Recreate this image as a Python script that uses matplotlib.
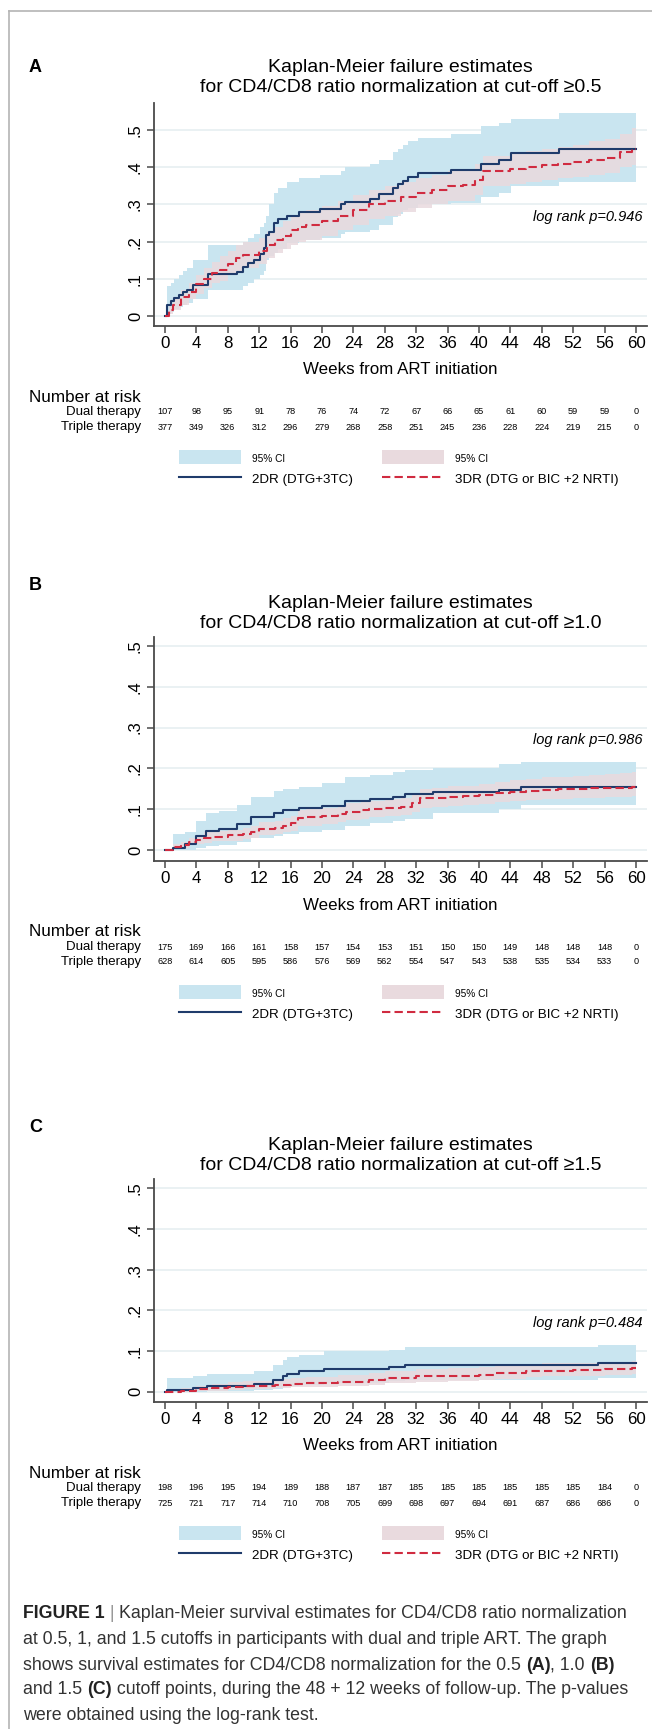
import matplotlib
matplotlib.use("Agg")
import matplotlib.pyplot as plt
from matplotlib.lines import Line2D
from matplotlib.patches import Patch
from matplotlib.transforms import blended_transform_factory

W, H = 652, 1729

plt.rcParams["font.family"] = ["Liberation Sans", "DejaVu Sans"]

# ---- data ----
risk_weeks = [0, 4, 8, 12, 16, 20, 24, 28, 32, 36, 40, 44, 48, 52, 56, 60]
risk_A_dual = [107, 98, 95, 91, 78, 76, 74, 72, 67, 66, 65, 61, 60, 59, 59, 0]
risk_A_triple = [377, 349, 326, 312, 296, 279, 268, 258, 251, 245, 236, 228, 224, 219, 215, 0]
risk_B_dual = [175, 169, 166, 161, 158, 157, 154, 153, 151, 150, 150, 149, 148, 148, 148, 0]
risk_B_triple = [628, 614, 605, 595, 586, 576, 569, 562, 554, 547, 543, 538, 535, 534, 533, 0]
risk_C_dual = [198, 196, 195, 194, 189, 188, 187, 187, 185, 185, 185, 185, 185, 185, 184, 0]
risk_C_triple = [725, 721, 717, 714, 710, 708, 705, 699, 698, 697, 694, 691, 687, 686, 686, 0]

# panel A, 2DR
A2_t = [0, 0.3, 0.8, 1.2, 1.8, 2.3, 2.8, 3.6, 5.5, 9.2, 10.0, 10.6, 11.3, 12.1, 12.6, 12.9, 13.3, 13.9,
        14.4, 15.5, 17.1, 19.8, 22.4, 22.9, 26.1, 27.2, 29.0, 29.7, 30.3, 30.9, 32.2, 36.4, 40.3, 42.5, 44.1, 50.2]
A2_s = [0, .030, .039, .049, .056, .064, .070, .083, .113, .119, .133, .142, .151, .168, .182, .218, .227, .249,
        .260, .269, .280, .289, .301, .307, .316, .327, .343, .354, .363, .375, .384, .392, .410, .419, .439, .448]
A2_hi = [0, .08, .09, .10, .11, .12, .13, .15, .19, .19, .20, .21, .22, .24, .25, .27, .30, .33,
         .345, .36, .37, .38, .39, .40, .41, .42, .44, .45, .46, .47, .48, .49, .51, .52, .53, .545]
A2_lo = [0, .005, .01, .02, .025, .03, .035, .045, .07, .07, .08, .09, .10, .11, .12, .15, .16, .17,
         .18, .195, .205, .21, .22, .225, .23, .245, .265, .275, .285, .29, .30, .305, .32, .33, .35, .36]
# panel A, 3DR
A3_t = [0, 0.5, 1, 2, 3, 4, 5, 6, 7, 8, 9, 10, 12, 13, 14, 15, 16, 17, 18, 20,
        22, 24, 26, 28, 30, 32, 34, 36, 38, 39.5, 40.5, 44, 46, 48, 50, 52, 54, 56, 58, 59.5]
A3_s = [0, .015, .03, .05, .065, .085, .10, .115, .125, .14, .155, .165, .175, .19, .205, .215, .23, .24, .245, .255,
        .27, .285, .30, .31, .32, .33, .34, .35, .352, .365, .39, .395, .40, .405, .41, .415, .42, .425, .44, .45]
A3_hi = [0, .03, .05, .07, .09, .11, .13, .145, .16, .175, .19, .20, .21, .225, .24, .255, .27, .28, .285, .295,
         .31, .325, .34, .35, .36, .37, .38, .39, .395, .41, .43, .44, .445, .45, .455, .46, .47, .475, .49, .505]
A3_lo = [0, .005, .015, .03, .045, .06, .075, .09, .095, .11, .12, .13, .14, .155, .17, .18, .19, .20, .205, .215,
         .23, .245, .26, .27, .28, .29, .30, .31, .31, .325, .35, .355, .36, .365, .37, .375, .38, .385, .40, .405]

# panel B, 2DR
B2_t = [0, 1.0, 2.5, 3.9, 5.2, 6.9, 9.2, 11.0, 13.9, 15.0, 17.1, 20.0, 22.9, 26.1, 29.0, 30.6, 34.1, 42.5, 45.4]
B2_s = [0, .005, .015, .035, .046, .052, .064, .08, .09, .097, .103, .109, .12, .125, .131, .137, .143, .148, .154]
B2_hi = [0, .04, .045, .07, .09, .095, .11, .13, .145, .15, .155, .165, .178, .183, .19, .195, .20, .21, .215]
B2_lo = [0, 0, 0, .005, .01, .012, .02, .03, .035, .04, .045, .05, .06, .065, .07, .075, .09, .10, .11]
# panel B, 3DR
B3_t = [0, 1, 2, 3, 4, 5, 6, 8, 10, 11, 12, 14, 15, 16, 17, 18, 20, 22, 23, 25,
        26, 28, 30, 31.5, 32.5, 34, 36, 38, 40, 42, 44, 46, 48, 50, 52, 54, 56, 58, 59.5]
B3_s = [0, .007, .012, .02, .025, .03, .033, .036, .04, .045, .052, .055, .06, .065, .078, .08, .083, .088, .094, .097,
        .10, .103, .105, .115, .127, .128, .13, .132, .135, .14, .143, .145, .148, .149, .15, .151, .152, .153, .155]
B3_hi = [0, .015, .02, .03, .037, .043, .047, .05, .055, .06, .068, .072, .078, .083, .097, .10, .103, .108, .115, .118,
         .121, .125, .127, .138, .15, .153, .156, .158, .162, .167, .171, .174, .178, .18, .182, .184, .186, .188, .19]
B3_lo = [0, .002, .006, .011, .015, .018, .021, .023, .026, .03, .036, .039, .043, .047, .058, .06, .063, .068, .074, .077,
         .08, .083, .085, .094, .103, .106, .108, .11, .113, .117, .12, .122, .125, .126, .127, .128, .129, .13, .132]

# panel C, 2DR
C2_t = [0, 0.2, 3.6, 5.3, 11.3, 13.7, 15.0, 15.6, 17.1, 20.3, 28.5, 30.6, 55.2]
C2_s = [0, .005, .01, .015, .02, .03, .04, .045, .05, .056, .061, .066, .071]
C2_hi = [0, .035, .04, .045, .052, .065, .078, .085, .09, .10, .102, .11, .115]
C2_lo = [0, 0, 0, .002, .004, .008, .012, .015, .018, .022, .026, .03, .033]
# panel C, 3DR
C3_t = [0, 2, 4, 6, 8, 10, 14, 16, 18, 22, 26, 28, 32, 36, 40, 42, 46, 48, 52, 56, 59.5]
C3_s = [0, .003, .006, .01, .013, .015, .018, .02, .022, .025, .03, .035, .038, .04, .042, .046, .05, .052, .054, .055, .058]
C3_hi = [0, .01, .015, .02, .024, .027, .031, .034, .037, .041, .047, .052, .056, .058, .06, .064, .068, .07, .072, .073, .076]
C3_lo = [0, 0, .001, .003, .005, .007, .009, .011, .012, .014, .018, .022, .025, .027, .029, .032, .036, .038, .04, .041, .043]

panel_letters = ["A", "B", "C"]
cutoffs = ["0.5", "1.0", "1.5"]
pvalues = ["0.946", "0.986", "0.484"]
p_levels = [0.266, 0.27, 0.17]
ytick_vals = [0, .1, .2, .3, .4, .5]
ytick_labels = ["0", ".1", ".2", ".3", ".4", ".5"]
end_week = 60

curves = [
    ((A2_t, A2_s, A2_lo, A2_hi), (A3_t, A3_s, A3_lo, A3_hi), risk_A_dual, risk_A_triple),
    ((B2_t, B2_s, B2_lo, B2_hi), (B3_t, B3_s, B3_lo, B3_hi), risk_B_dual, risk_B_triple),
    ((C2_t, C2_s, C2_lo, C2_hi), (C3_t, C3_s, C3_lo, C3_hi), risk_C_dual, risk_C_triple),
]

# ---- layout (pixels from top) ----
layout = [
    dict(lab=68, t1=68, t2=88, top=103, bot=326, ylim=(-0.027, 0.573)),
    dict(lab=585, t1=603, t2=623, top=637, bot=861, ylim=(-0.027, 0.522)),
    dict(lab=1127, t1=1146, t2=1165, top=1179, bot=1402, ylim=(-0.025, 0.523)),
]
AX_L, AX_R = 154, 647

BLUE_CI = "#c9e5f0"
PINK_CI = "#e9dade"
NAVY = "#1f3b6b"
RED = "#d02b40"
SPINE = "#4a4a4a"
GRID = "#e4eef0"


def fx(px):
    return px / W


def fy(py):
    return 1 - py / H


fig = plt.figure(figsize=(W / 100, H / 100), dpi=100)

# journal frame
fig.add_artist(Line2D([fx(9), fx(9)], [fy(11), 0], color="#b4b4b4", lw=1.2, transform=fig.transFigure))
fig.add_artist(Line2D([fx(9), 1], [fy(11), fy(11)], color="#b4b4b4", lw=1.2, transform=fig.transFigure))

for i, lay in enumerate(layout):
    (t2, s2, lo2, hi2), (t3, s3, lo3, hi3), r_dual, r_trip = curves[i]
    ax = fig.add_axes([fx(AX_L), fy(lay["bot"]), fx(AX_R - AX_L), (lay["bot"] - lay["top"]) / H])

    tt2 = t2 + [end_week]
    tt3 = t3 + [end_week]
    ax.fill_between(tt2, lo2 + [lo2[-1]], hi2 + [hi2[-1]], step="post", color=BLUE_CI, lw=0)
    ax.fill_between(tt3, lo3 + [lo3[-1]], hi3 + [hi3[-1]], step="post", color=PINK_CI, alpha=0.85, lw=0)
    ax.step(tt2, s2 + [s2[-1]], where="post", color=NAVY, lw=1.5)
    ax.step(tt3, s3 + [s3[-1]], where="post", color=RED, lw=1.5, dashes=(4, 2))

    ax.set_xlim(-1.4, 61.4)
    ax.set_ylim(*lay["ylim"])
    ax.set_xticks(risk_weeks)
    ax.set_yticks(ytick_vals)
    ax.set_yticklabels(ytick_labels)
    for side in ["top", "right"]:
        ax.spines[side].set_visible(False)
    for side in ["left", "bottom"]:
        ax.spines[side].set_color(SPINE)
        ax.spines[side].set_linewidth(1.3)
    ax.tick_params(axis="x", length=5, width=1.1, color=SPINE, pad=2, labelsize=12.2)
    ax.tick_params(axis="y", length=5, width=1.1, color=SPINE, pad=3, labelsize=12, labelrotation=90)
    for lbl in ax.get_yticklabels():
        lbl.set_va("center")
    ax.yaxis.grid(True, color=GRID, lw=1.1)
    ax.set_axisbelow(True)

    fig.text(fx(29), fy(lay["lab"]), panel_letters[i], fontsize=13, fontweight="bold", va="center")
    cx = fx((AX_L + AX_R) / 2)
    fig.text(cx, fy(lay["t1"]), "Kaplan-Meier failure estimates", fontsize=14, ha="center", va="center")
    fig.text(cx, fy(lay["t2"]), "for CD4/CD8 ratio normalization at cut-off \u2265" + cutoffs[i],
             fontsize=14, ha="center", va="center")

    bot = lay["bot"]
    fig.text(cx, fy(bot + 44), "Weeks from ART initiation", fontsize=12.2, ha="center", va="center")

    ptrans = blended_transform_factory(ax.transAxes, ax.transData)
    ax.text(0.99, p_levels[i], "log rank p=" + pvalues[i], transform=ptrans, ha="right", va="center",
            fontsize=10.5, style="italic")

    # number at risk table
    fig.text(fx(141), fy(bot + 71), "Number at risk", fontsize=12.3, ha="right", va="center")
    fig.text(fx(141), fy(bot + 86), "Dual therapy", fontsize=9.5, ha="right", va="center")
    fig.text(fx(141), fy(bot + 101), "Triple therapy", fontsize=9.5, ha="right", va="center")
    rtrans = blended_transform_factory(ax.transData, fig.transFigure)
    for w, n1, n2 in zip(risk_weeks, r_dual, r_trip):
        ax.text(w, fy(bot + 86), str(n1), transform=rtrans, ha="center", va="center", fontsize=6.6)
        ax.text(w, fy(bot + 101), str(n2), transform=rtrans, ha="center", va="center", fontsize=6.6)

    handles = [Patch(fc=BLUE_CI, ec="none"), Line2D([], [], color=NAVY, lw=1.5),
               Patch(fc=PINK_CI, ec="none"), Line2D([], [], color=RED, lw=1.5, dashes=(4, 2))]
    labels = ["95% CI", "2DR (DTG+3TC)", "95% CI", "3DR (DTG or BIC +2 NRTI)"]
    fs = 9.6
    fspx = fs * 100 / 72
    leg = fig.legend(handles, labels, ncol=2, loc="upper left",
                     bbox_to_anchor=(fx(179), fy(bot + 124)), bbox_transform=fig.transFigure,
                     frameon=False, fontsize=fs, borderpad=0, borderaxespad=0,
                     handlelength=62 / fspx, handleheight=17 / fspx, handletextpad=11 / fspx,
                     labelspacing=(24 - 17) / fspx, columnspacing=29 / fspx)
    for txt, lab in zip(leg.get_texts(), labels):
        if lab == "95% CI":
            txt.set_fontsize(7.3)

# caption with inline bold parts
renderer = fig.canvas.get_renderer()
CAP = "#333333"
caption = [
    [("FIGURE 1", "bold", "#222222"), (" | ", "normal", "#999999"),
     ("Kaplan-Meier survival estimates for CD4/CD8 ratio normalization", "normal", CAP)],
    [("at 0.5, 1, and 1.5 cutoffs in participants with dual and triple ART. The graph", "normal", CAP)],
    [("shows survival estimates for CD4/CD8 normalization for the 0.5 ", "normal", CAP), ("(A)", "bold", "#222222"),
     (", 1.0 ", "normal", CAP), ("(B)", "bold", "#222222")],
    [("and 1.5 ", "normal", CAP), ("(C)", "bold", "#222222"),
     (" cutoff points, during the 48 + 12 weeks of follow-up. The p-values", "normal", CAP)],
    [("were obtained using the log-rank test.", "normal", CAP)],
]
cap_y = [1613, 1639, 1665, 1690, 1716]
for line, y in zip(caption, cap_y):
    x = fx(23)
    for txt, weight, col in line:
        t = fig.text(x, fy(y), txt, fontsize=12.8, fontweight=weight, color=col, va="center")
        x += t.get_window_extent(renderer).width / W

fig.savefig("out.png", dpi=100)
